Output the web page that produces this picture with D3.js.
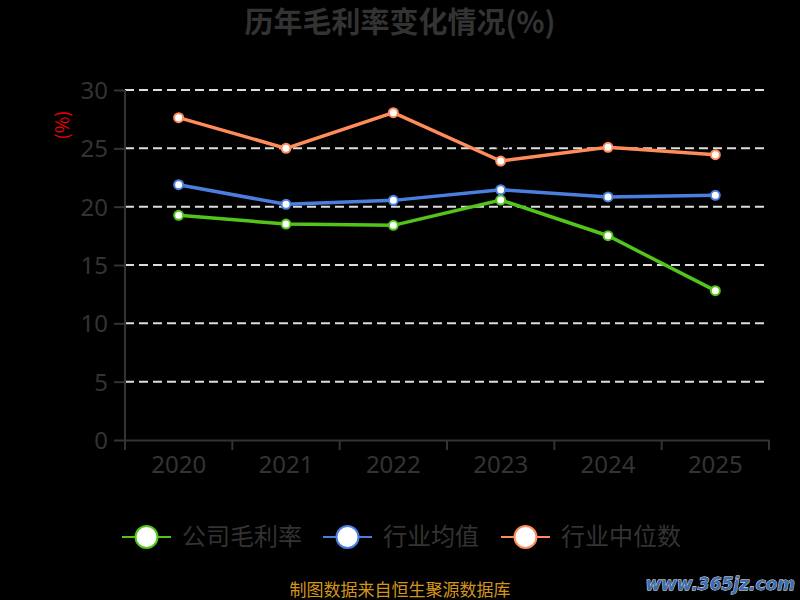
<!DOCTYPE html>
<html>
<head>
<meta charset="utf-8">
<script src="https://cdn.jsdelivr.net/npm/d3@7"></script>
<style>
  body { margin: 0; background: #000; }
  svg { display: block; font-family: "Noto Sans CJK SC", "Noto Sans", sans-serif; }
</style>
</head>
<body>
<div class="chart"></div>
<script>
var years = ["2020", "2021", "2022", "2023", "2024", "2025"];
var companyMargin = [19.26, 18.51, 18.40, 20.57, 17.51, 12.80];
var industryAvg = [21.88, 20.20, 20.54, 21.45, 20.83, 20.97];
var industryMedian = [27.63, 25.00, 28.06, 23.91, 25.09, 24.46];
var seriesNames = ["公司毛利率", "行业均值", "行业中位数"];
var yTicks = [0, 5, 10, 15, 20, 25, 30];

var svgWidth = 800;
var svgHeight = 600;
var margin = { top: 90, right: 31, bottom: 160, left: 125 };
var width = svgWidth - margin.left - margin.right;
var height = svgHeight - margin.top - margin.bottom;

var colors = ["#52c41a", "#4a7fe0", "#ff8c5a"];

var svg = d3.select(".chart")
    .append("svg")
    .attr("width", svgWidth)
    .attr("height", svgHeight)
    .style("background", "#000");

// title
svg.append("text")
    .attr("x", 400)
    .attr("y", 33)
    .attr("text-anchor", "middle")
    .attr("font-size", 29)
    .attr("font-weight", "bold")
    .attr("fill", "#333")
    .text("历年毛利率变化情况(%)");

var chartGroup = svg.append("g")
    .attr("transform", `translate(${margin.left}, ${margin.top})`);

var xScale = d3.scaleBand().domain(years).range([0, width]);
var yScale = d3.scaleLinear().domain([0, 30]).range([height, 0]);

// grid lines
chartGroup.selectAll(".grid")
    .data(yTicks.filter(d => d > 0))
    .enter()
    .append("line")
    .attr("x1", 0)
    .attr("x2", width)
    .attr("y1", d => yScale(d))
    .attr("y2", d => yScale(d))
    .attr("stroke", "#ddd")
    .attr("stroke-width", 2)
    .attr("stroke-dasharray", "9,5");

// y axis
var leftAxis = d3.axisLeft(yScale).tickValues(yTicks).tickSize(11).tickPadding(6);
var yAxisG = chartGroup.append("g").call(leftAxis);
yAxisG.select(".domain").attr("stroke", "#333").attr("stroke-width", 2).attr("d", `M0,${height}V0`);
yAxisG.selectAll(".tick line").attr("stroke", "#333").attr("stroke-width", 2);
yAxisG.selectAll(".tick text")
    .attr("fill", "#333")
    .attr("font-size", 24)
    .attr("font-family", "\"Noto Sans\", sans-serif")
    .attr("dy", "0.35em");

// x axis
var bottomAxis = d3.axisBottom(xScale).tickSize(0).tickPadding(16);
var xAxisG = chartGroup.append("g")
    .attr("transform", `translate(0, ${height})`)
    .call(bottomAxis);
xAxisG.select(".domain").attr("stroke", "#333").attr("stroke-width", 2);
xAxisG.selectAll(".tick text")
    .attr("fill", "#333")
    .attr("font-size", 24)
    .attr("font-family", "\"Noto Sans\", sans-serif");
xAxisG.selectAll(".boundary")
    .data(d3.range(years.length + 1))
    .enter()
    .append("line")
    .attr("x1", i => i * xScale.step())
    .attr("x2", i => i * xScale.step())
    .attr("y1", 0)
    .attr("y2", 10)
    .attr("stroke", "#333")
    .attr("stroke-width", 2);

// y axis unit label
svg.append("text")
    .attr("transform", "translate(69, 125) rotate(-90)")
    .attr("text-anchor", "middle")
    .attr("font-size", 18)
    .attr("fill", "#e00")
    .text("(%)");

var allSeries = [companyMargin, industryAvg, industryMedian];
var line = d3.line()
    .x((d, i) => xScale(years[i]) + xScale.bandwidth() / 2)
    .y(d => yScale(d));

allSeries.forEach(function(values, s) {
    chartGroup.append("path")
        .datum(values)
        .attr("fill", "none")
        .attr("stroke", colors[s])
        .attr("stroke-width", 3.5)
        .attr("d", line);
});

// data labels (black on black, only visible where they cut the lines)
var labelOffset = [20, -9, -9];
allSeries.forEach(function(values, s) {
    chartGroup.selectAll(".lbl" + s)
        .data(values)
        .enter()
        .append("text")
        .attr("x", (d, i) => xScale(years[i]) + xScale.bandwidth() / 2)
        .attr("y", d => yScale(d) + labelOffset[s])
        .attr("text-anchor", "middle")
        .attr("font-size", 13)
        .attr("fill", "#000")
        .text(d => d.toFixed(2));
});

allSeries.forEach(function(values, s) {
    chartGroup.selectAll(".pt" + s)
        .data(values)
        .enter()
        .append("circle")
        .attr("cx", (d, i) => xScale(years[i]) + xScale.bandwidth() / 2)
        .attr("cy", d => yScale(d))
        .attr("r", 4.5)
        .attr("fill", "#fff")
        .attr("stroke", colors[s])
        .attr("stroke-width", 2);
});

// legend
var legendX = [122, 323, 501];
var legend = svg.selectAll(".legend")
    .data(seriesNames)
    .enter()
    .append("g")
    .attr("transform", (d, i) => `translate(${legendX[i]}, 537)`);
legend.append("line")
    .attr("x1", 0).attr("x2", 49)
    .attr("stroke", (d, i) => colors[i])
    .attr("stroke-width", 2);
legend.append("circle")
    .attr("cx", 24.5)
    .attr("r", 11)
    .attr("fill", "#fff")
    .attr("stroke", (d, i) => colors[i])
    .attr("stroke-width", 2);
legend.append("text")
    .attr("x", 60)
    .attr("dy", "0.35em")
    .attr("font-size", 24)
    .attr("fill", "#333")
    .text(d => d);

// source note
svg.append("text")
    .attr("x", 400)
    .attr("y", 596)
    .attr("text-anchor", "middle")
    .attr("font-size", 17)
    .attr("fill", "#d4961a")
    .text("制图数据来自恒生聚源数据库");

// watermark
svg.append("text")
    .attr("x", 795)
    .attr("y", 590)
    .attr("text-anchor", "end")
    .attr("font-size", 17)
    .attr("font-weight", "bold")
    .attr("font-style", "italic")
    .attr("font-family", "\"DejaVu Sans\", sans-serif")
    .attr("fill", "#3b6db0")
    .attr("stroke", "#fff")
    .attr("stroke-width", 0.8)
    .attr("paint-order", "stroke")
    .text("www.365jz.com");
</script>
</body>
</html>
